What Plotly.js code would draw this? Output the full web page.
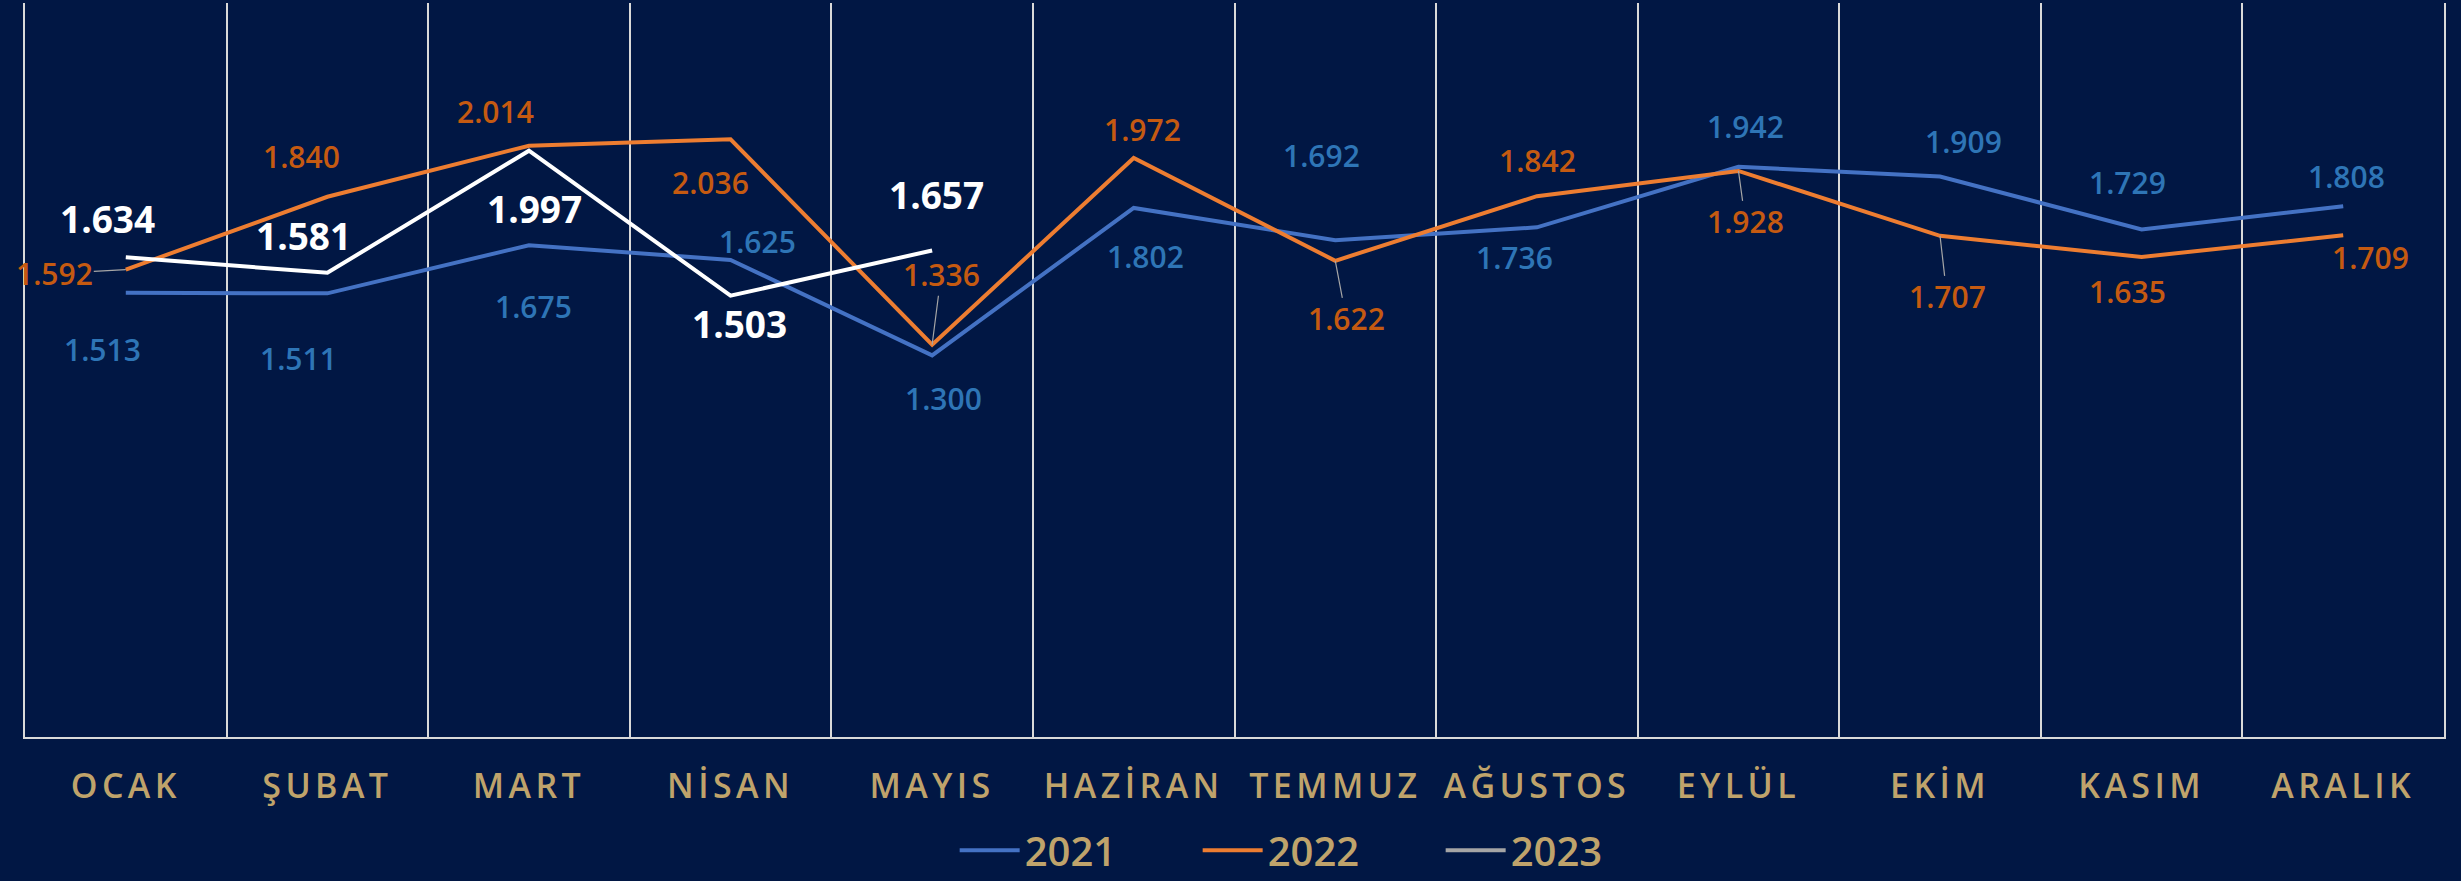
<!DOCTYPE html>
<html>
<head>
<meta charset="utf-8">
<script src="https://cdn.plot.ly/plotly-3.0.1.min.js"></script>
<style>
  html, body { margin: 0; padding: 0; background: #011744; }
  #chart { width: 2461px; height: 881px; }
  #chart .xtick text { letter-spacing: 0.13em; }
</style>
</head>
<body>
<div id="chart"></div>
<script>
// ---- Data ----
const months = ["OCAK", "ŞUBAT", "MART", "NİSAN", "MAYIS", "HAZİRAN", "TEMMUZ", "AĞUSTOS", "EYLÜL", "EKİM", "KASIM", "ARALIK"];
const values2021 = [1513, 1511, 1675, 1625, 1300, 1802, 1692, 1736, 1942, 1909, 1729, 1808];
const values2022 = [1592, 1840, 2014, 2036, 1336, 1972, 1622, 1842, 1928, 1707, 1635, 1709];
const values2023 = [1634, 1581, 1997, 1503, 1657, null, null, null, null, null, null, null];
const seriesNames = ["2021", "2022", "2023"];

// ---- Label placement (pixel offsets from each point; not data) ----
const off2021 = [[-23, 57], [-29, 65], [5, 61], [27, -18], [11, 43], [12, 49], [-14, -85], [-22, 30], [7, -40], [23, -35], [-14, -47], [3, -30]];
const off2022 = [[-71, 4], [-26, -40], [-33, -34], [-20, 43], [9, -70], [9, -29], [11, 58], [1, -36], [7, 51], [7, 61], [-14, 35], [27, 22]];
const off2023 = [[-18, -39], [-24, -37], [6, 58], [9, 28], [4, -56]];
const leader2022 = [true, false, false, false, true, false, true, false, true, true, false, false];

const BG = "#011744";
const GOLD = "#BFA36B";
const GRID = "#D9D9D9";
const FONT = "'Open Sans', 'Noto Sans', sans-serif";

function fmt(n) {
  return String(n).replace(/\B(?=(\d{3})+(?!\d))/g, ".");
}

const traces = [
  { x: months, y: values2021, name: seriesNames[0], type: "scatter", mode: "lines",
    line: { color: "#4472C4", width: 4 }, hoverinfo: "skip" },
  { x: months, y: values2022, name: seriesNames[1], type: "scatter", mode: "lines",
    line: { color: "#ED7D31", width: 4 }, hoverinfo: "skip" },
  { x: [null], y: [null], name: seriesNames[2], type: "scatter", mode: "lines",
    line: { color: "#A5A5A5", width: 4 }, hoverinfo: "skip", legendgroup: "g23" },
  { x: months, y: values2023, name: seriesNames[2], type: "scatter", mode: "lines",
    line: { color: "#FFFFFF", width: 4 }, hoverinfo: "skip", showlegend: false, legendgroup: "g23" }
];

const annotations = [];
function addLabels(vals, offs, color, size, weight, leaders) {
  vals.forEach((v, i) => {
    if (v === null || v === undefined) return;
    const o = offs[i];
    const font = { family: FONT, size: size, color: color, weight: weight };
    if (leaders && leaders[i]) {
      annotations.push({ x: months[i], y: v, xref: "x", yref: "y", text: fmt(v),
        showarrow: true, ax: o[0], ay: o[1], arrowhead: 0, arrowwidth: 1.2,
        arrowcolor: "#A6A6A6", standoff: 0, font: font, borderpad: 0 });
    } else {
      annotations.push({ x: months[i], y: v, xref: "x", yref: "y", text: fmt(v),
        showarrow: false, xshift: o[0], yshift: -o[1], font: font });
    }
  });
}
addLabels(values2021, off2021, "#2E75B6", 30, 600, null);
addLabels(values2022, off2022, "#C55A11", 30, 600, leader2022);
addLabels(values2023, off2023, "#FFFFFF", 37, 700, null);

const layout = {
  width: 2461, height: 881,
  paper_bgcolor: BG, plot_bgcolor: BG,
  margin: { l: 25, r: 17, t: 3, b: 144, autoexpand: false },
  showlegend: true,
  legend: {
    orientation: "h", x: 0.535, xanchor: "center", y: -0.1544, yanchor: "middle",
    font: { family: FONT, size: 40, color: GOLD, weight: 600 },
    bgcolor: "rgba(0,0,0,0)", itemwidth: 60, entrywidth: 168, entrywidthmode: "pixels",
    traceorder: "normal"
  },
  xaxis: {
    type: "category", range: [-0.5, 11.5], tickson: "boundaries",
    showgrid: true, gridcolor: GRID, gridwidth: 2,
    showline: true, linecolor: GRID, linewidth: 2, mirror: false,
    ticks: "", ticklabelstandoff: 18,
    tickfont: { family: FONT, size: 34, color: GOLD, weight: 600 },
    zeroline: false, fixedrange: true, automargin: false
  },
  yaxis: {
    range: [0, 2500], showgrid: false, zeroline: false, showticklabels: false,
    ticks: "", showline: true, linecolor: GRID, linewidth: 2, mirror: true, fixedrange: true
  },
  annotations: annotations
};

Plotly.newPlot("chart", traces, layout, { staticPlot: true, displayModeBar: false });
</script>
</body>
</html>
